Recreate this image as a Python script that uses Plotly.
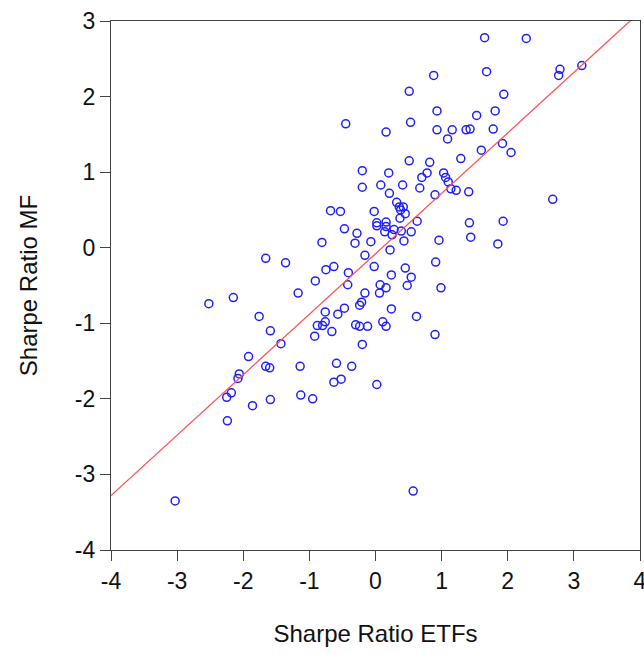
import plotly.graph_objects as go

etf = [-0.45, -0.20, -0.20, 1.65, 2.28, 0.88, 1.68, 2.79, 2.77, 3.12,
       0.51, 1.94, 0.93, 1.81, 1.53, 0.53, 0.16, 0.93, 1.16, 1.37,
       1.43, 1.78, 1.09, 1.92, 2.05, 1.60, 1.29, 0.51, 0.82, 0.20,
       0.78, 1.03, 0.70, 1.06, 1.10, 0.08, 0.41, 0.67, 1.14, 1.22,
       1.41, 0.21, 0.90, 2.68, 0.32, 0.36, 0.42, 0.38, -0.02, 0.45,
       0.37, 0.63, 0.02, 0.02, 0.16, 0.16, 0.28, 0.14, 0.39, 0.54,
       0.25, 1.42, 1.93, 1.44, 0.96, 1.85, -0.07, 0.43, 0.22, 0.91,
       -0.02, 0.45, 0.24, 0.54, 0.07, 0.16, 0.48, 0.99, 0.06, 0.24,
       0.62, 0.11, 0.16, 0.90, 0.02, -0.68, -0.53, -0.47, -0.28, -0.81,
       -0.31, -0.16, -1.66, -1.36, -0.75, -0.63, -0.41, -0.91, -0.42, -1.17,
       -0.16, -0.21, -0.24, -2.52, -2.15, -0.47, -0.76, -0.57, -1.76, -0.88,
       -0.80, -0.76, -0.30, -0.24, -0.12, -1.59, -0.66, -0.92, -0.20, -1.43,
       -1.92, -1.66, -1.60, -1.14, -0.59, -0.36, -2.06, -2.08, -0.63, -0.52,
       -2.18, -2.25, -1.86, -1.59, -1.13, -0.95, -2.24, -3.03, 0.57]

mf = [1.64, 1.02, 0.80, 2.78, 2.77, 2.28, 2.33, 2.36, 2.28, 2.41,
      2.07, 2.03, 1.81, 1.81, 1.75, 1.66, 1.53, 1.56, 1.56, 1.56,
      1.57, 1.57, 1.44, 1.38, 1.26, 1.29, 1.18, 1.15, 1.13, 0.99,
      0.99, 0.99, 0.93, 0.93, 0.87, 0.83, 0.83, 0.79, 0.78, 0.76,
      0.74, 0.72, 0.70, 0.64, 0.60, 0.54, 0.54, 0.50, 0.48, 0.45,
      0.39, 0.35, 0.33, 0.29, 0.34, 0.28, 0.24, 0.21, 0.22, 0.21,
      0.17, 0.33, 0.35, 0.14, 0.10, 0.05, 0.08, 0.09, -0.03, -0.19,
      -0.25, -0.27, -0.36, -0.39, -0.49, -0.53, -0.50, -0.53, -0.60, -0.81,
      -0.91, -0.98, -1.04, -1.15, -1.81, 0.49, 0.48, 0.25, 0.19, 0.07,
      0.06, -0.10, -0.14, -0.20, -0.29, -0.25, -0.33, -0.44, -0.49, -0.60,
      -0.60, -0.72, -0.76, -0.74, -0.66, -0.80, -0.85, -0.88, -0.91, -1.03,
      -1.03, -0.98, -1.02, -1.04, -1.04, -1.10, -1.11, -1.17, -1.28, -1.27,
      -1.44, -1.57, -1.59, -1.57, -1.53, -1.57, -1.67, -1.73, -1.78, -1.74,
      -1.92, -1.98, -2.09, -2.01, -1.95, -2.00, -2.29, -3.35, -3.22]

fit_intercept = -0.08
fit_slope = 0.80
fit_x = [-4, 4]
fit_y = [fit_intercept + fit_slope * v for v in fit_x]

tick_vals_x = [-4, -3, -2, -1, 0, 1, 2, 3, 4]
tick_text_x = ["-4", "-3", "-2", "-1", "0", "1", "2", "3", "4"]
tick_vals_y = [-4, -3, -2, -1, 0, 1, 2, 3]
tick_text_y = ["-4", "-3", "-2", "-1", "0", "1", "2", "3"]

fig = go.Figure()
fig.add_trace(go.Scatter(
    x=etf, y=mf, mode="markers",
    marker=dict(symbol="circle-open", size=8, color="#1f1fff",
                line=dict(width=1.5, color="#1f1fff")),
    showlegend=False, cliponaxis=False))
fig.add_trace(go.Scatter(
    x=fit_x, y=fit_y, mode="lines",
    line=dict(color="#ff5555", width=1.3), showlegend=False))

axis_common = dict(
    showgrid=False, zeroline=False, showline=True, mirror=True,
    linecolor="#444444", linewidth=1.2, ticks="outside", ticklen=10,
    tickwidth=1.2, tickcolor="#444444", ticklabeloverflow="allow",
    automargin=False,
    tickfont=dict(size=23, color="#111111", family="Liberation Sans, Arial"),
)

fig.update_layout(
    width=644, height=654,
    margin=dict(l=111, r=4, t=21, b=104, autoexpand=False),
    paper_bgcolor="white", plot_bgcolor="white",
    font=dict(family="Liberation Sans, Arial", color="#111111"),
    xaxis=dict(range=[-4, 4], tickvals=tick_vals_x, ticktext=tick_text_x,
               title=dict(text="Sharpe Ratio ETFs", font=dict(size=24), standoff=32),
               **axis_common),
    yaxis=dict(range=[-4, 3], tickvals=tick_vals_y, ticktext=tick_text_y,
               title=dict(text="Sharpe Ratio MF", font=dict(size=24), standoff=30),
               **axis_common),
)

fig.write_html("out.html")
